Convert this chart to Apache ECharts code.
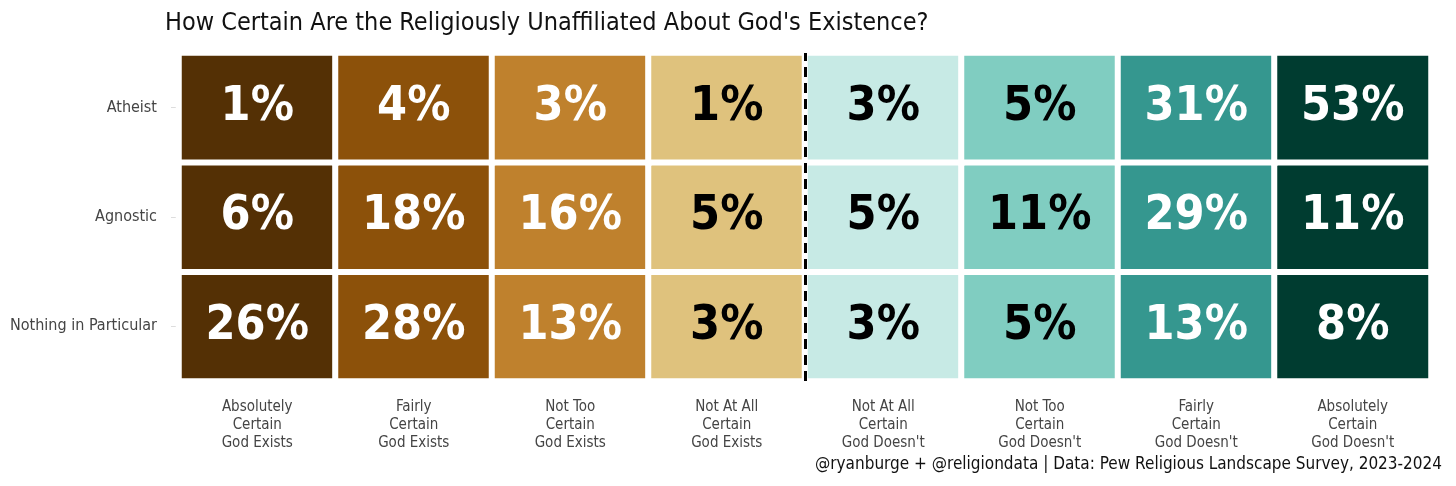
<!DOCTYPE html>
<html><head><meta charset="utf-8">
<script src="https://cdn.jsdelivr.net/npm/echarts@6/dist/echarts.min.js"></script>
<style>html,body{margin:0;background:#fff}#c{width:1456px;height:486px}</style></head>
<body><div id="c"></div>
<script>
const columns = ["Absolutely\nCertain\nGod Exists","Fairly\nCertain\nGod Exists","Not Too\nCertain\nGod Exists","Not At All\nCertain\nGod Exists","Not At All\nCertain\nGod Doesn't","Not Too\nCertain\nGod Doesn't","Fairly\nCertain\nGod Doesn't","Absolutely\nCertain\nGod Doesn't"];
const rows = ["Nothing in Particular","Agnostic","Atheist"];
const atheist = [1,4,3,1,3,5,31,53];
const agnostic = [6,18,16,5,5,11,29,11];
const nothing = [26,28,13,3,3,5,13,8];
const colColors = ["#543005","#8c510a","#bf812d","#dfc27d","#c7eae5","#80cdc1","#35978f","#003c30"];
const colText = ["#fff","#fff","#fff","#000","#000","#000","#fff","#fff"];
const data = [];
[nothing, agnostic, atheist].forEach((arr, r) => arr.forEach((v, c) => data.push({
  value:[c,r,v], itemStyle:{color:colColors[c]}, label:{color:colText[c]}
})));
const font = "'Liberation Sans Narrow','DejaVu Sans Condensed',sans-serif";
const chart = echarts.init(document.getElementById('c'));
chart.setOption({
  animation:false,
  title:{text:"How Certain Are the Religiously Unaffiliated About God's Existence?",left:160,top:6,
    textStyle:{fontFamily:font,fontWeight:'normal',fontSize:25,color:'#111'}},
  graphic:[{type:'text',right:14,top:456,style:{text:"@ryanburge + @religiondata | Data: Pew Religious Landscape Survey, 2023-2024",
    font:"17px "+font,fill:'#111'}}],
  grid:{left:179,right:25,top:53,bottom:105},
  xAxis:[{type:'category',data:columns,position:'bottom',axisLine:{show:false},axisTick:{show:false},
    axisLabel:{fontFamily:font,fontSize:15,color:'#444',lineHeight:18,margin:17},
    splitLine:{show:false}},
    {type:'value',min:0,max:8,show:false}],
  yAxis:{type:'category',data:rows,axisLine:{show:false},axisTick:{show:true,alignWithLabel:true,length:8,lineStyle:{color:'#ddd'}},
    axisLabel:{fontFamily:font,fontSize:16,color:'#444',margin:22}},
  series:[{type:'heatmap',data:data,itemStyle:{borderColor:'#fff',borderWidth:6},
    label:{show:true,fontFamily:font,fontWeight:'bold',fontSize:48,formatter:p=>p.value[2]+'%'}},
    {type:'line',xAxisIndex:1,data:[],markLine:{symbol:'none',silent:true,label:{show:false},
      lineStyle:{color:'#000',type:[10,6],width:3},data:[{xAxis:4}]}}]
});
</script></body></html>
